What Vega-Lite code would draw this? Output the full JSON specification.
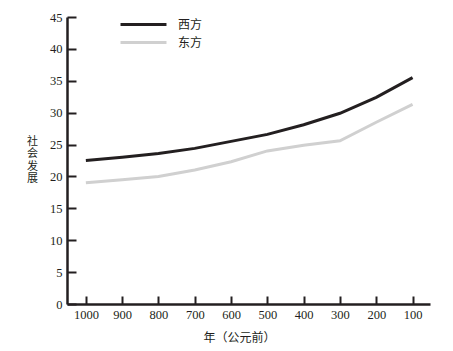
{
  "$schema": "https://vega.github.io/schema/vega-lite/v6.json",
  "width": 363,
  "height": 287,
  "autosize": "none",
  "padding": {"left": 67, "top": 17, "right": 23, "bottom": 47},
  "background": "white",
  "data": {
    "values": [
      {"year": 1000, "region": "西方", "value": 22.5},
      {"year": 900, "region": "西方", "value": 23.0},
      {"year": 800, "region": "西方", "value": 23.6},
      {"year": 700, "region": "西方", "value": 24.4},
      {"year": 600, "region": "西方", "value": 25.5},
      {"year": 500, "region": "西方", "value": 26.6},
      {"year": 400, "region": "西方", "value": 28.1},
      {"year": 300, "region": "西方", "value": 29.9},
      {"year": 200, "region": "西方", "value": 32.4},
      {"year": 100, "region": "西方", "value": 35.5},
      {"year": 1000, "region": "东方", "value": 19.0},
      {"year": 900, "region": "东方", "value": 19.5},
      {"year": 800, "region": "东方", "value": 20.0},
      {"year": 700, "region": "东方", "value": 21.0},
      {"year": 600, "region": "东方", "value": 22.3},
      {"year": 500, "region": "东方", "value": 24.0},
      {"year": 400, "region": "东方", "value": 24.9},
      {"year": 300, "region": "东方", "value": 25.6},
      {"year": 200, "region": "东方", "value": 28.5},
      {"year": 100, "region": "东方", "value": 31.3}
    ]
  },
  "mark": {"type": "line", "strokeWidth": 3},
  "encoding": {
    "x": {
      "field": "year",
      "type": "quantitative",
      "scale": {"domain": [52, 1052], "reverse": true, "nice": false, "zero": false},
      "axis": {
        "values": [100, 200, 300, 400, 500, 600, 700, 800, 900, 1000],
        "format": "d",
        "grid": false,
        "tickSize": -8,
        "tickWidth": 2,
        "tickColor": "#231f20",
        "domainWidth": 2.5,
        "domainColor": "#231f20",
        "labelFont": "Liberation Serif",
        "labelFontSize": 12.5,
        "labelColor": "#231f20",
        "labelPadding": 12,
        "title": "年（公元前）",
        "titleFont": "Noto Sans CJK SC",
        "titleFontSize": 12,
        "titleFontWeight": "normal",
        "titleColor": "#231f20",
        "titleX": 172,
        "titleY": 33,
        "titleAnchor": "middle",
        "titleAlign": "center",
        "titleBaseline": "middle"
      }
    },
    "y": {
      "field": "value",
      "type": "quantitative",
      "scale": {"domain": [0, 45], "nice": false},
      "axis": {
        "values": [0, 5, 10, 15, 20, 25, 30, 35, 40, 45],
        "grid": false,
        "tickSize": -9,
        "tickWidth": 2,
        "tickColor": "#231f20",
        "domainWidth": 2.5,
        "domainColor": "#231f20",
        "labelFont": "Liberation Serif",
        "labelFontSize": 12.5,
        "labelColor": "#231f20",
        "labelPadding": 14,
        "title": ["社", "会", "发", "展"],
        "titleAngle": 0,
        "titleFont": "Noto Sans CJK SC",
        "titleFontSize": 11,
        "titleFontWeight": "normal",
        "titleColor": "#231f20",
        "titleLineHeight": 12.5,
        "titleAlign": "center",
        "titleBaseline": "top",
        "titleX": -35,
        "titleY": 118
      }
    },
    "color": {
      "field": "region",
      "type": "nominal",
      "scale": {"domain": ["西方", "东方"], "range": ["#231f20", "#d0d0d0"]},
      "legend": {
        "orient": "none",
        "legendX": 69,
        "legendY": 0,
        "title": null,
        "symbolType": "M-4,0H4",
        "symbolSize": 132,
        "symbolStrokeWidth": 3,
        "symbolFillColor": "transparent",
        "labelFont": "Noto Sans CJK SC",
        "labelFontSize": 12,
        "labelColor": "#231f20",
        "labelOffset": 27,
        "rowPadding": 4,
        "padding": 0
      }
    }
  },
  "config": {"view": {"stroke": null}}
}
